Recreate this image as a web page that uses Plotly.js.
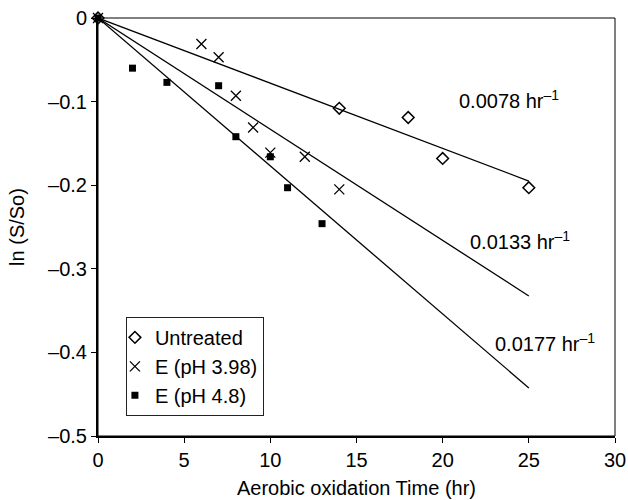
<!DOCTYPE html>
<html>
<head>
<meta charset="utf-8">
<script src="https://cdn.plot.ly/plotly-3.0.1.min.js"></script>
<style>body{margin:0;background:#fff}#chart{width:628px;height:500px}</style>
</head>
<body>
<div id="chart"></div>
<script>
// Measured data
var untreatedX = [0, 14, 18, 20, 25];
var untreatedY = [0, -0.108, -0.119, -0.168, -0.203];

var e398X = [0, 6, 7, 8, 9, 10, 12, 14];
var e398Y = [0, -0.031, -0.047, -0.093, -0.131, -0.161, -0.166, -0.205];

var e48X = [0, 2, 4, 7, 8, 10, 11, 13];
var e48Y = [0, -0.060, -0.077, -0.081, -0.142, -0.166, -0.203, -0.246];

// Fitted first-order lines (end points)
var fitX = [0, 25];
var fitUntreated = [0, -0.195];
var fitE398 = [0, -0.3325];
var fitE48 = [0, -0.4425];

var seriesNames = ["Untreated", "E (pH 3.98)", "E (pH 4.8)"];
var rateLabels = ["0.0078", "0.0133", "0.0177"];
var rateLabelX = [20.85, 21.49, 22.91];
var rateLabelY = [-0.097, -0.266, -0.388];

var xTicks = [0, 5, 10, 15, 20, 25, 30];
var xTickText = ["0", "5", "10", "15", "20", "25", "30"];
var yTicks = [0, -0.1, -0.2, -0.3, -0.4, -0.5];
var yTickText = ["0", "\u20130.1", "\u20130.2", "\u20130.3", "\u20130.4", "\u20130.5"];

var FONT = "Liberation Sans, Arial, sans-serif";

function fitTrace(y) {
  return {x: fitX, y: y, type: "scatter", mode: "lines", showlegend: false,
          hoverinfo: "skip", line: {color: "#000", width: 1.3}, cliponaxis: false};
}

var traces = [
  fitTrace(fitUntreated), fitTrace(fitE398), fitTrace(fitE48),
  {x: untreatedX, y: untreatedY, name: seriesNames[0], type: "scatter", mode: "markers",
   cliponaxis: false,
   marker: {symbol: "diamond-open", size: 9, color: "#000", line: {color: "#000", width: 1.5}}},
  {x: e398X, y: e398Y, name: seriesNames[1], type: "scatter", mode: "markers",
   cliponaxis: false,
   marker: {symbol: "x-thin-open", size: 10, color: "#000", line: {color: "#000", width: 1.3}}},
  {x: e48X, y: e48Y, name: seriesNames[2], type: "scatter", mode: "markers",
   cliponaxis: false,
   marker: {symbol: "square", size: 7, color: "#000", line: {width: 0}}}
];

var annotations = rateLabels.map(function (r, i) {
  return {x: rateLabelX[i], y: rateLabelY[i], xref: "x", yref: "y",
          text: r + " hr<sup>\u20131</sup>", showarrow: false,
          xanchor: "left", yanchor: "middle",
          font: {family: FONT, size: 20, color: "#000"}};
});

var layout = {
  width: 628, height: 500,
  margin: {l: 98, r: 13, t: 18, b: 64},
  paper_bgcolor: "#fff", plot_bgcolor: "#fff",
  font: {family: FONT, size: 20, color: "#000"},
  showlegend: true,
  legend: {x: 0.054, y: 0.285, xanchor: "left", yanchor: "top",
           bgcolor: "#fff", bordercolor: "#222", borderwidth: 1,
           font: {family: FONT, size: 20, color: "#000"},
           indentation: -12, tracegroupgap: 0},
  xaxis: {range: [0, 30], tickvals: xTicks, ticktext: xTickText,
          showgrid: false, zeroline: false,
          showline: true, linecolor: "#000", linewidth: 2,
          ticks: "outside", ticklen: 5, tickwidth: 1, tickcolor: "#000",
          tickfont: {family: FONT, size: 20, color: "#000"},
          automargin: false,
          title: {text: "Aerobic oxidation Time (hr)", standoff: 11,
                  font: {family: FONT, size: 20, color: "#000"}}},
  yaxis: {range: [-0.5, 0], tickvals: yTicks, ticktext: yTickText,
          showgrid: false, zeroline: false,
          showline: true, linecolor: "#000", linewidth: 2,
          ticks: "outside", ticklen: 5, tickwidth: 1, tickcolor: "#000",
          tickfont: {family: FONT, size: 20, color: "#000"},
          automargin: false,
          title: {text: "ln (S/So)", standoff: 18,
                  font: {family: FONT, size: 20, color: "#000"}}},
  shapes: [{type: "rect", xref: "paper", yref: "paper", x0: 0, x1: 1, y0: 0, y1: 1,
            line: {color: "#000", width: 1}, layer: "below"}],
  annotations: annotations
};

Plotly.newPlot("chart", traces, layout, {displayModeBar: false, staticPlot: true});
</script>
</body>
</html>
